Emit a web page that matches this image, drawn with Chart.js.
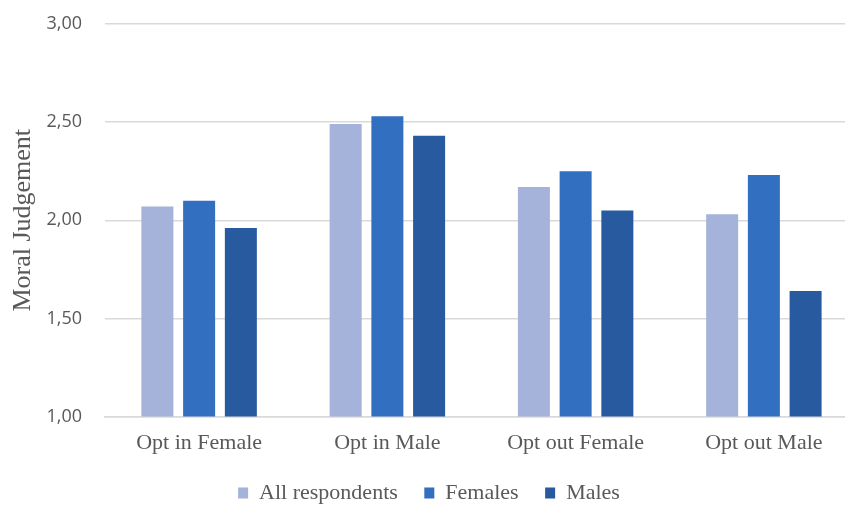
<!DOCTYPE html>
<html>
<head>
<meta charset="utf-8">
<script src="https://cdn.jsdelivr.net/npm/chart.js@4"></script>
<style>
  html, body { margin: 0; padding: 0; background: #ffffff; }
  #frame { width: 845px; height: 505px; overflow: hidden; position: relative; }
  #chart { display: block; }
</style>
</head>
<body>
<div id="frame"><canvas id="chart" width="858" height="505"></canvas></div>
<script>
// Mean moral judgement by vignette, split by respondent group
const categories = ['Opt in Female', 'Opt in Male', 'Opt out Female', 'Opt out Male'];
const allRespondents = [2.07, 2.49, 2.17, 2.03];
const females = [2.10, 2.53, 2.25, 2.23];
const males = [1.96, 2.43, 2.05, 1.64];
const yTicks = [1.00, 1.50, 2.00, 2.50, 3.00];

const serif = '"Liberation Serif", "Times New Roman", serif';
const sans = '"Open Sans", "Liberation Sans", sans-serif';
const textGrey = '#595959';
const gridGrey = '#D9D9D9';

const fmt = v => v.toFixed(2).replace('.', ',');

new Chart(document.getElementById('chart'), {
  type: 'bar',
  data: {
    labels: categories,
    datasets: [
      { label: 'All respondents', data: allRespondents, backgroundColor: '#A5B2DA' },
      { label: 'Females', data: females, backgroundColor: '#336FC0' },
      { label: 'Males', data: males, backgroundColor: '#275A9F' }
    ]
  },
  options: {
    responsive: false,
    animation: false,
    devicePixelRatio: 1,
    layout: { padding: { left: 0, right: 0, top: 24, bottom: -9 } },
    datasets: {
      bar: { categoryPercentage: 0.665, barPercentage: 0.767 }
    },
    plugins: {
      tooltip: { enabled: false },
      legend: {
        position: 'bottom',
        labels: {
          font: { family: serif, size: 22 },
          color: textGrey,
          boxWidth: 10,
          boxHeight: 11,
          padding: 26.5
        }
      }
    },
    scales: {
      x: {
        grid: { display: false, drawTicks: false },
        border: { display: true, color: gridGrey, width: 1.5 },
        ticks: {
          font: { family: serif, size: 22 },
          color: textGrey,
          padding: 14,
          maxRotation: 0
        },
        afterFit: s => { s.height = 39; }
      },
      y: {
        min: 1,
        max: 3,
        afterBuildTicks: s => { s.ticks = yTicks.map(v => ({ value: v })); },
        grid: {
          color: gridGrey,
          lineWidth: 1.5,
          drawTicks: true,
          tickLength: 22,
          tickColor: 'rgba(0,0,0,0)'
        },
        border: { display: false },
        ticks: {
          font: { family: sans, size: 18 },
          color: textGrey,
          padding: 1,
          callback: v => fmt(v)
        },
        title: {
          display: true,
          text: 'Moral Judgement',
          font: { family: serif, size: 26 },
          color: textGrey,
          padding: { top: 8, bottom: 0 }
        },
        afterFit: s => { s.width = 105; }
      }
    }
  }
});
</script>
</body>
</html>
